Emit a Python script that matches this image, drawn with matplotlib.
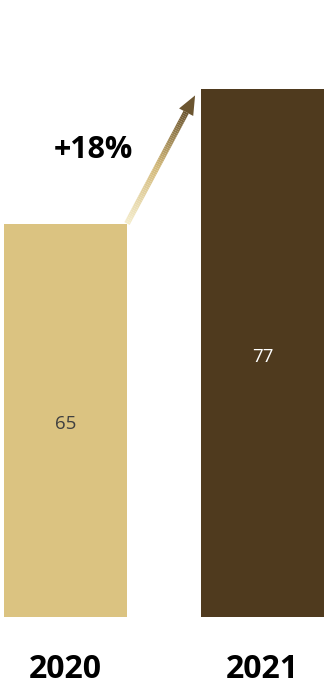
import matplotlib
matplotlib.use("Agg")
import matplotlib.pyplot as plt
import numpy as np
from matplotlib.collections import LineCollection
from matplotlib.colors import LinearSegmentedColormap
from matplotlib.patches import Polygon

years = ["2020", "2021"]
values = [65, 77]
growth = "+18%"

bar_colors = ["#DBC381", "#4F3A1E"]
label_colors = ["#404040", "#FFFFFF"]

plt.rcParams['font.family'] = ['Open Sans', 'DejaVu Sans']

fig = plt.figure(figsize=(3.25, 6.86), dpi=100)
ax = fig.add_axes([0, 69 / 686, 1, 617 / 686])
ax.set_xlim(-0.3325, 1.317)
ax.set_ylim(29.8, 85.0)
ax.axis("off")

w = 0.624
x = np.arange(len(years))
ax.bar(x, values, width=w, bottom=0, color=bar_colors)

base = 29.8
for i, v in enumerate(values):
    ax.text(x[i], (base + v) / 2 - 0.3, str(v), ha="center", va="center",
            fontsize=13.5, color=label_colors[i])
    ax.text(x[i], -0.085, years[i], ha="center", va="center",
            fontsize=23, fontweight="bold", color="black",
            transform=ax.get_xaxis_transform())

# gradient arrow from top of first bar towards second
trans = ax.transData
p0 = trans.transform((x[0] + w / 2, values[0]))
p1 = trans.transform((x[1] - w / 2, values[1]))
p1 = p1 + np.array([-6, -6])
d = p1 - p0
L = np.hypot(*d)
u = d / L
n = np.array([-u[1], u[0]])
head_len, head_w = 19, 8
shaft_end = p1 - u * head_len

cmap = LinearSegmentedColormap.from_list("g", ["#F4ECCB", "#D2B878", "#6B5530"])
N = 60
ts = np.linspace(0, 1, N + 1)
pts = np.array([p0 + (shaft_end - p0) * t for t in ts])
pts_d = trans.inverted().transform(pts)
segs = [[pts_d[k], pts_d[k + 1]] for k in range(N)]
lc = LineCollection(segs, colors=cmap(ts[:-1]), linewidths=4.3,
                    capstyle="butt", clip_on=False)
ax.add_collection(lc)

head = np.array([p1, shaft_end + n * head_w, shaft_end - n * head_w])
ax.add_patch(Polygon(trans.inverted().transform(head), closed=True,
                     color="#6B5530", clip_on=False, lw=0))

ax.text(93 / 325, 1 - 150 / 617, growth, ha="center", va="center",
        fontsize=22, fontweight="bold", color="black", transform=ax.transAxes)

fig.savefig("out.png", dpi=100)
